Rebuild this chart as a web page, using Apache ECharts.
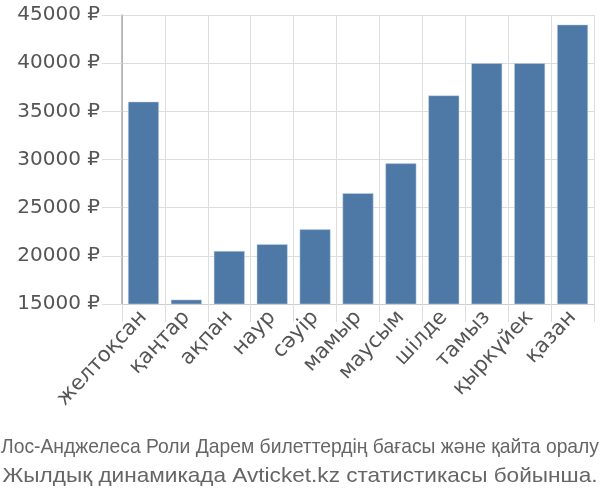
<!DOCTYPE html>
<html><head><meta charset="utf-8">
<script src="https://cdn.jsdelivr.net/npm/echarts@6/dist/echarts.min.js"></script>
<style>html,body{margin:0;padding:0;background:#fff}#c{width:600px;height:500px}</style>
</head><body><div id="c"></div>
<script>
const categories = ["желтоқсан","қаңтар","ақпан","наур","сәуір","мамыр","маусым","шілде","тамыз","қыркүйек","қазан"];
const prices = [36000, 15450, 20500, 21200, 22750, 26500, 29600, 36650, 40000, 40000, 44000];
const yTicks = [15000, 20000, 25000, 30000, 35000, 40000, 45000];
const titleLines = ["Лос-Анджелеса Роли Дарем билеттердің бағасы және қайта оралу", "Жылдық динамикада Avticket.kz статистикасы бойынша."];

const titleFont = '21px "Liberation Sans", Arial, sans-serif';
const cv = document.createElement('canvas').getContext('2d');
cv.font = titleFont;
const titleWidths = [598, 595];
const titleY = [447, 476];
const titleGraphics = titleLines.map((t, i) => {
  const w = cv.measureText(t).width;
  return {
    type:'text', x:300, y:titleY[i], scaleX: titleWidths[i] / w, originX:0, originY:0,
    style:{text:t, font:titleFont, fill:'#666', textAlign:'center', textVerticalAlign:'middle'}
  };
});

const chart = echarts.init(document.getElementById('c'), null, {renderer:'canvas'});
chart.setOption({
  animation:false,
  graphic: titleGraphics,
  grid:{left:122, right:6, top:15, bottom:196},
  xAxis:{
    type:'category', data:categories,
    axisLine:{lineStyle:{color:'#ccc', width:1}},
    axisTick:{show:true, length:18, lineStyle:{color:'#ddd'}},
    splitLine:{show:true, lineStyle:{color:'#ddd', width:1}},
    axisLabel:{rotate:47, fontSize:21, color:'#555', fontFamily:'"DejaVu Sans",sans-serif', margin:10, interval:0}
  },
  yAxis:{
    type:'value', min:yTicks[0], max:yTicks[yTicks.length-1], interval:5000,
    axisLine:{show:true, lineStyle:{color:'#aaa', width:1.5}},
    axisTick:{show:true, length:20, lineStyle:{color:'#ddd'}},
    splitLine:{lineStyle:{color:'#ddd', width:1}},
    axisLabel:{formatter: v => v + ' ₽', fontSize:20, color:'#555', fontFamily:'"DejaVu Sans",sans-serif', margin:22}
  },
  series:[{
    type:'bar', data:prices, barCategoryGap:'28%',
    itemStyle:{color:'#4e79a7', borderColor:'#c9d6e6', borderWidth:0.5}
  }]
});
</script></body></html>
